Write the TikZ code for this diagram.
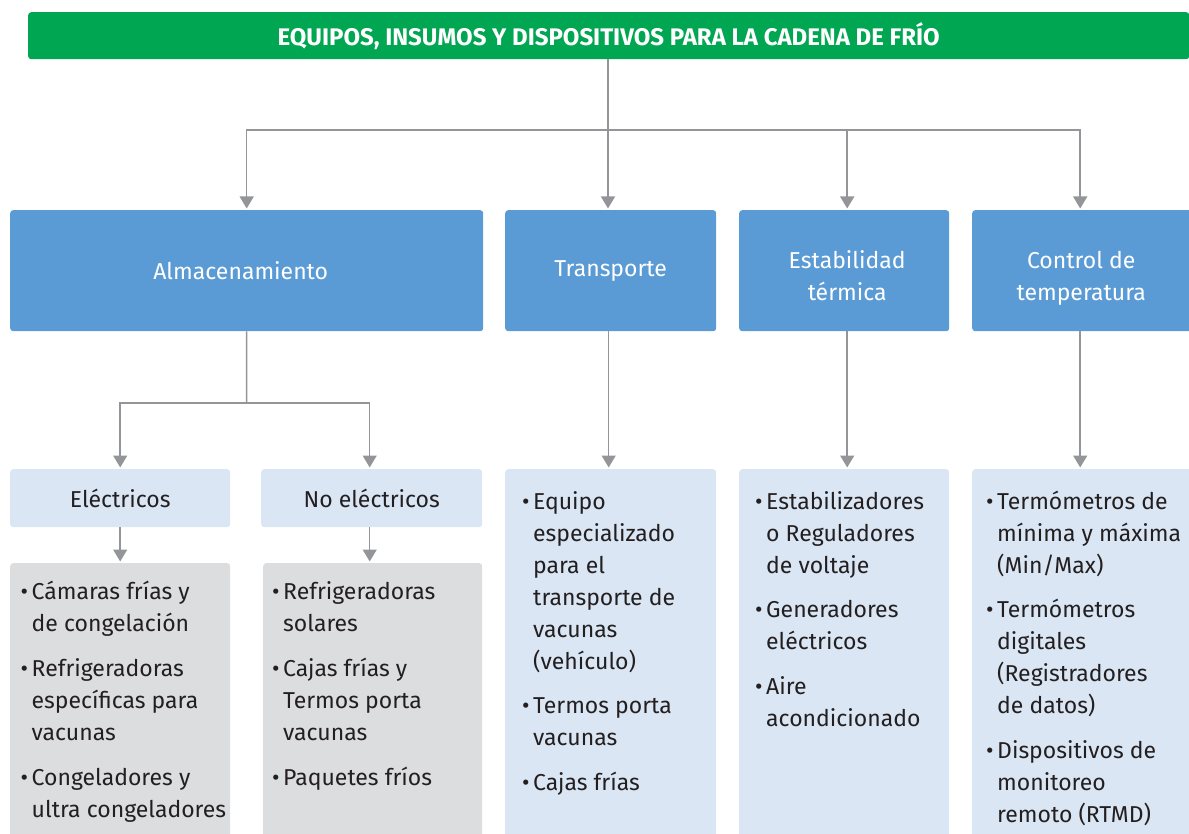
\documentclass[tikz,border=0pt]{standalone}
\usepackage{fontspec}
\setmainfont{Fira Sans}
\usetikzlibrary{arrows.meta}
\definecolor{cgreen}{HTML}{00A651}
\definecolor{cblue}{HTML}{5B9BD5}
\definecolor{clight}{HTML}{DAE6F3}
\definecolor{cgray}{HTML}{DCDDDE}
\definecolor{cline}{HTML}{939598}
\definecolor{ctxt}{HTML}{231F20}
\newcommand{\bl}{\strut\makebox[11pt][l]{•}}
\newcommand{\ind}{\hspace*{11pt}}
\begin{document}
\begin{tikzpicture}[x=1pt,y=-1pt,
  box/.style={anchor=north west, inner sep=0pt, rounded corners=3pt},
  titlebox/.style={box, fill=cgreen, text=white, font=\fontsize{24}{28}\selectfont\bfseries},
  bluebox/.style={box, fill=cblue, text=white, align=center, font=\fontsize{23}{32}\selectfont},
  bluetxt/.style={inner sep=0pt, text=white, align=center, font=\fontsize{23}{32}\selectfont},
  lightbox/.style={box, fill=clight, text=ctxt, align=center, font=\fontsize{23}{32}\selectfont},
  graybox/.style={box, fill=cgray},
  lst/.style={anchor=north west, inner sep=0pt, align=left, text=ctxt, font=\fontsize{23}{32}\selectfont},
  conn/.style={draw=cline, line width=1.5pt},
  arr/.style={conn, -{Triangle[width=14pt,length=12pt]}, shorten >=1.5pt}
]
\useasboundingbox (0,0) rectangle (1189,834);

% title
\node[titlebox, minimum width=1161pt, minimum height=47pt] (title) at (28,12) {EQUIPOS, INSUMOS Y DISPOSITIVOS PARA LA CADENA DE FRÍO};

% level 1
\node[bluebox, minimum width=473pt, minimum height=121pt] (alm) at (10,210) {};
\node[bluetxt] (almt) at ([xshift=-6pt]alm.center) {Almacenamiento};
\node[bluebox, minimum width=211pt, minimum height=121pt] (tra) at (505,210) {\raisebox{-2pt}{Transporte}};
\node[bluebox, minimum width=210pt, minimum height=121pt] (est) at (739,210) {};
\node[bluebox, minimum width=230pt, minimum height=121pt] (ctl) at (972,210) {};
\node[bluetxt] (estt) at ([xshift=3pt,yshift=-5pt]est.center) {Estabilidad\\térmica};
\node[bluetxt] (ctlt) at ([xshift=-6pt,yshift=-8pt]ctl.center) {Control de\\temperatura};

% level 2 under almacenamiento
\node[lightbox, minimum width=220pt, minimum height=58pt] (ele) at (10,469) {Eléctricos};
\node[lightbox, minimum width=221pt, minimum height=58pt] (noe) at (261,469) {No eléctricos};

% list boxes
\node[graybox, minimum width=220pt, minimum height=290pt] (g1) at (10,563) {};
\node[graybox, minimum width=219pt, minimum height=290pt] (g2) at (263,563) {};
\node[lightbox, minimum width=211pt, minimum height=380pt] (l3) at (505,469) {};
\node[lightbox, minimum width=210pt, minimum height=380pt] (l4) at (739,469) {};
\node[lightbox, minimum width=230pt, minimum height=380pt] (l5) at (972,469) {};

% list texts
\node[lst] (t1) at (20.5,577) {\bl Cámaras frías y\\\ind de congelación\\[13pt]\bl Refrigeradoras\\\ind específicas para\\\ind vacunas\\[13pt]\bl Congeladores y\\\ind ultra congeladores};
\node[lst] (t2) at (272,577) {\bl Refrigeradoras\\\ind solares\\[13pt]\bl Cajas frías y\\\ind Termos porta\\\ind vacunas\\[13pt]\bl Paquetes fríos};
\node[lst] (t3) at (522,487) {\bl Equipo\\\ind especializado\\\ind para el\\\ind transporte de\\\ind vacunas\\\ind (vehículo)\\[12pt]\bl Termos porta\\\ind vacunas\\[13pt]\bl Cajas frías};
\node[lst] (t4) at (755,487) {\bl Estabilizadores\\\ind o Reguladores\\\ind de voltaje\\[12pt]\bl Generadores\\\ind eléctricos\\[13pt]\bl Aire\\\ind acondicionado};
\node[lst] (t5) at (986,487) {\bl Termómetros de\\\ind mínima y máxima\\\ind (Min/Max)\\[12pt]\bl Termómetros\\\ind digitales\\\ind (Registradores\\\ind de datos)\\[13pt]\bl Dispositivos de\\\ind monitoreo\\\ind remoto (RTMD)};

% connectors
\coordinate (j) at (608,130);
\coordinate (k) at (246.5,403);
\draw[conn] (title.south -| j) -- (j);
\draw[arr] (j) -| (alm.north);
\draw[arr] (j) -- (j |- tra.north);
\draw[arr] (j) -| ([xshift=3pt]est.north);
\draw[arr] (j) -| ([xshift=-7pt]ctl.north);
\draw[conn] (alm.south) -- (k);
\draw[arr] (k) -| (ele.north);
\draw[arr] (k) -| ([xshift=-2pt]noe.north);
\draw[arr] (ele.south) -- (g1.north -| ele.south);
\draw[arr] ([xshift=-2pt]noe.south) -- ([xshift=-2pt]g2.north -| noe.south);
\draw[arr] ([xshift=-2pt]tra.south) -- ([xshift=-2pt]l3.north);
\draw[arr] ([xshift=3pt]est.south) -- ([xshift=3pt]l4.north);
\draw[arr] ([xshift=-7pt]ctl.south) -- ([xshift=-7pt]l5.north);
\end{tikzpicture}
\end{document}
